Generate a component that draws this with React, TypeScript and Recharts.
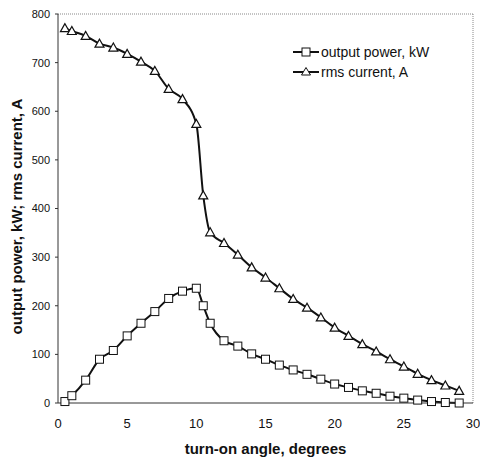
import { LineChart, Line, XAxis, YAxis, ReferenceLine } from "recharts";

const angles = [
  0.5, 1, 2, 3, 4, 5, 6, 7, 8, 9, 10, 10.5, 11, 12, 13, 14, 15, 16, 17, 18,
  19, 20, 21, 22, 23, 24, 25, 26, 27, 28, 29,
];
const outputPower = [
  3, 15, 47, 90, 108, 138, 164, 188, 215, 230, 236, 200, 164, 128, 117, 101,
  90, 78, 68, 59, 49, 39, 32, 25, 20, 14, 10, 6, 3, 1, 0,
];
const rmsCurrent = [
  771, 765, 755, 739, 731, 718, 702, 683, 646, 625, 574, 427, 351, 329, 305,
  279, 258, 236, 214, 196, 176, 155, 138, 121, 106, 90, 75, 60, 47, 36, 25,
];
const xTicks = [0, 5, 10, 15, 20, 25, 30];
const yTicks = [0, 100, 200, 300, 400, 500, 600, 700, 800];

const data = angles.map((a, i) => ({
  angle: a,
  power: outputPower[i],
  current: rmsCurrent[i],
}));

const FONT = "'Liberation Sans', Arial, sans-serif";

const SquareDot = (props: any) => {
  const { cx, cy, key } = props;
  if (cx == null || cy == null) return null;
  return (
    <rect
      key={key}
      x={cx - 4}
      y={cy - 4}
      width={8}
      height={8}
      fill="#fff"
      stroke="#111"
      strokeWidth={1}
    />
  );
};

const TriangleDot = (props: any) => {
  const { cx, cy, key } = props;
  if (cx == null || cy == null) return null;
  return (
    <polygon
      key={key}
      points={`${cx},${cy - 4.5} ${cx - 4.5},${cy + 3.5} ${cx + 4.5},${cy + 3.5}`}
      fill="#fff"
      stroke="#111"
      strokeWidth={1.2}
    />
  );
};

// rotated y label, sitting a bit below the plot centre like the original
const YLabel = (props: any) => {
  const vb = props.viewBox || {};
  const cx = 22;
  const cy = (vb.y ?? 14) + (vb.height ?? 389) / 2 + 8;
  return (
    <text
      x={cx}
      y={cy}
      transform={`rotate(-90, ${cx}, ${cy})`}
      textAnchor="middle"
      fontFamily={FONT}
      fontSize={15}
      fontWeight="bold"
      fill="#111"
    >
      output power, kW; rms current, A
    </text>
  );
};

// legend overlay, drawn by hand so the markers match the plot
const LegendBox = () => (
  <svg
    width={180}
    height={40}
    style={{ position: "absolute", left: 293, top: 44, overflow: "visible" }}
  >
    <line x1={0} y1={8} x2={26} y2={8} stroke="#111" strokeWidth={2} />
    <rect x={9} y={4} width={8} height={8} fill="#fff" stroke="#111" />
    <text x={28} y={13} fontFamily={FONT} fontSize={14} fill="#111">
      output power, kW
    </text>
    <line x1={0} y1={28} x2={26} y2={28} stroke="#111" strokeWidth={2} />
    <polygon points="13,23.5 8.5,31 17.5,31" fill="#fff" stroke="#111" />
    <text x={28} y={33} fontFamily={FONT} fontSize={14} fill="#111">
      rms current, A
    </text>
  </svg>
);

export default function App() {
  return (
    <div
      style={{
        position: "absolute",
        left: 0,
        top: 0,
        width: 480,
        height: 460,
        background: "#fff",
      }}
    >
      <LineChart
        width={480}
        height={460}
        data={data}
        margin={{ top: 14, right: 7, left: 0, bottom: 0 }}
      >
        <XAxis
          dataKey="angle"
          type="number"
          domain={[0, 30]}
          ticks={xTicks}
          tickLine={false}
          tickMargin={10}
          height={57}
          axisLine={{ stroke: "#333" }}
          tick={{ fontFamily: FONT, fontSize: 13, fill: "#111" }}
          label={{
            value: "turn-on angle, degrees",
            position: "insideBottom",
            offset: 6,
            style: {
              fontFamily: FONT,
              fontSize: 15,
              fontWeight: "bold",
              fill: "#111",
            },
          }}
        />
        <YAxis
          type="number"
          domain={[0, 800]}
          ticks={yTicks}
          width={58}
          tickSize={3}
          tickMargin={5}
          tickLine={{ stroke: "#333" }}
          axisLine={{ stroke: "#333" }}
          tick={{ fontFamily: FONT, fontSize: 11, fill: "#111" }}
          label={<YLabel />}
        />
        <ReferenceLine y={800} stroke="#888" strokeDasharray="1 1" />
        <ReferenceLine x={30} stroke="#888" strokeDasharray="1 1" />
        <Line
          type="monotone"
          dataKey="power"
          name="output power, kW"
          stroke="#111"
          strokeWidth={2}
          dot={<SquareDot />}
          isAnimationActive={false}
        />
        <Line
          type="monotone"
          dataKey="current"
          name="rms current, A"
          stroke="#111"
          strokeWidth={2}
          dot={<TriangleDot />}
          isAnimationActive={false}
        />
      </LineChart>
      <LegendBox />
    </div>
  );
}
